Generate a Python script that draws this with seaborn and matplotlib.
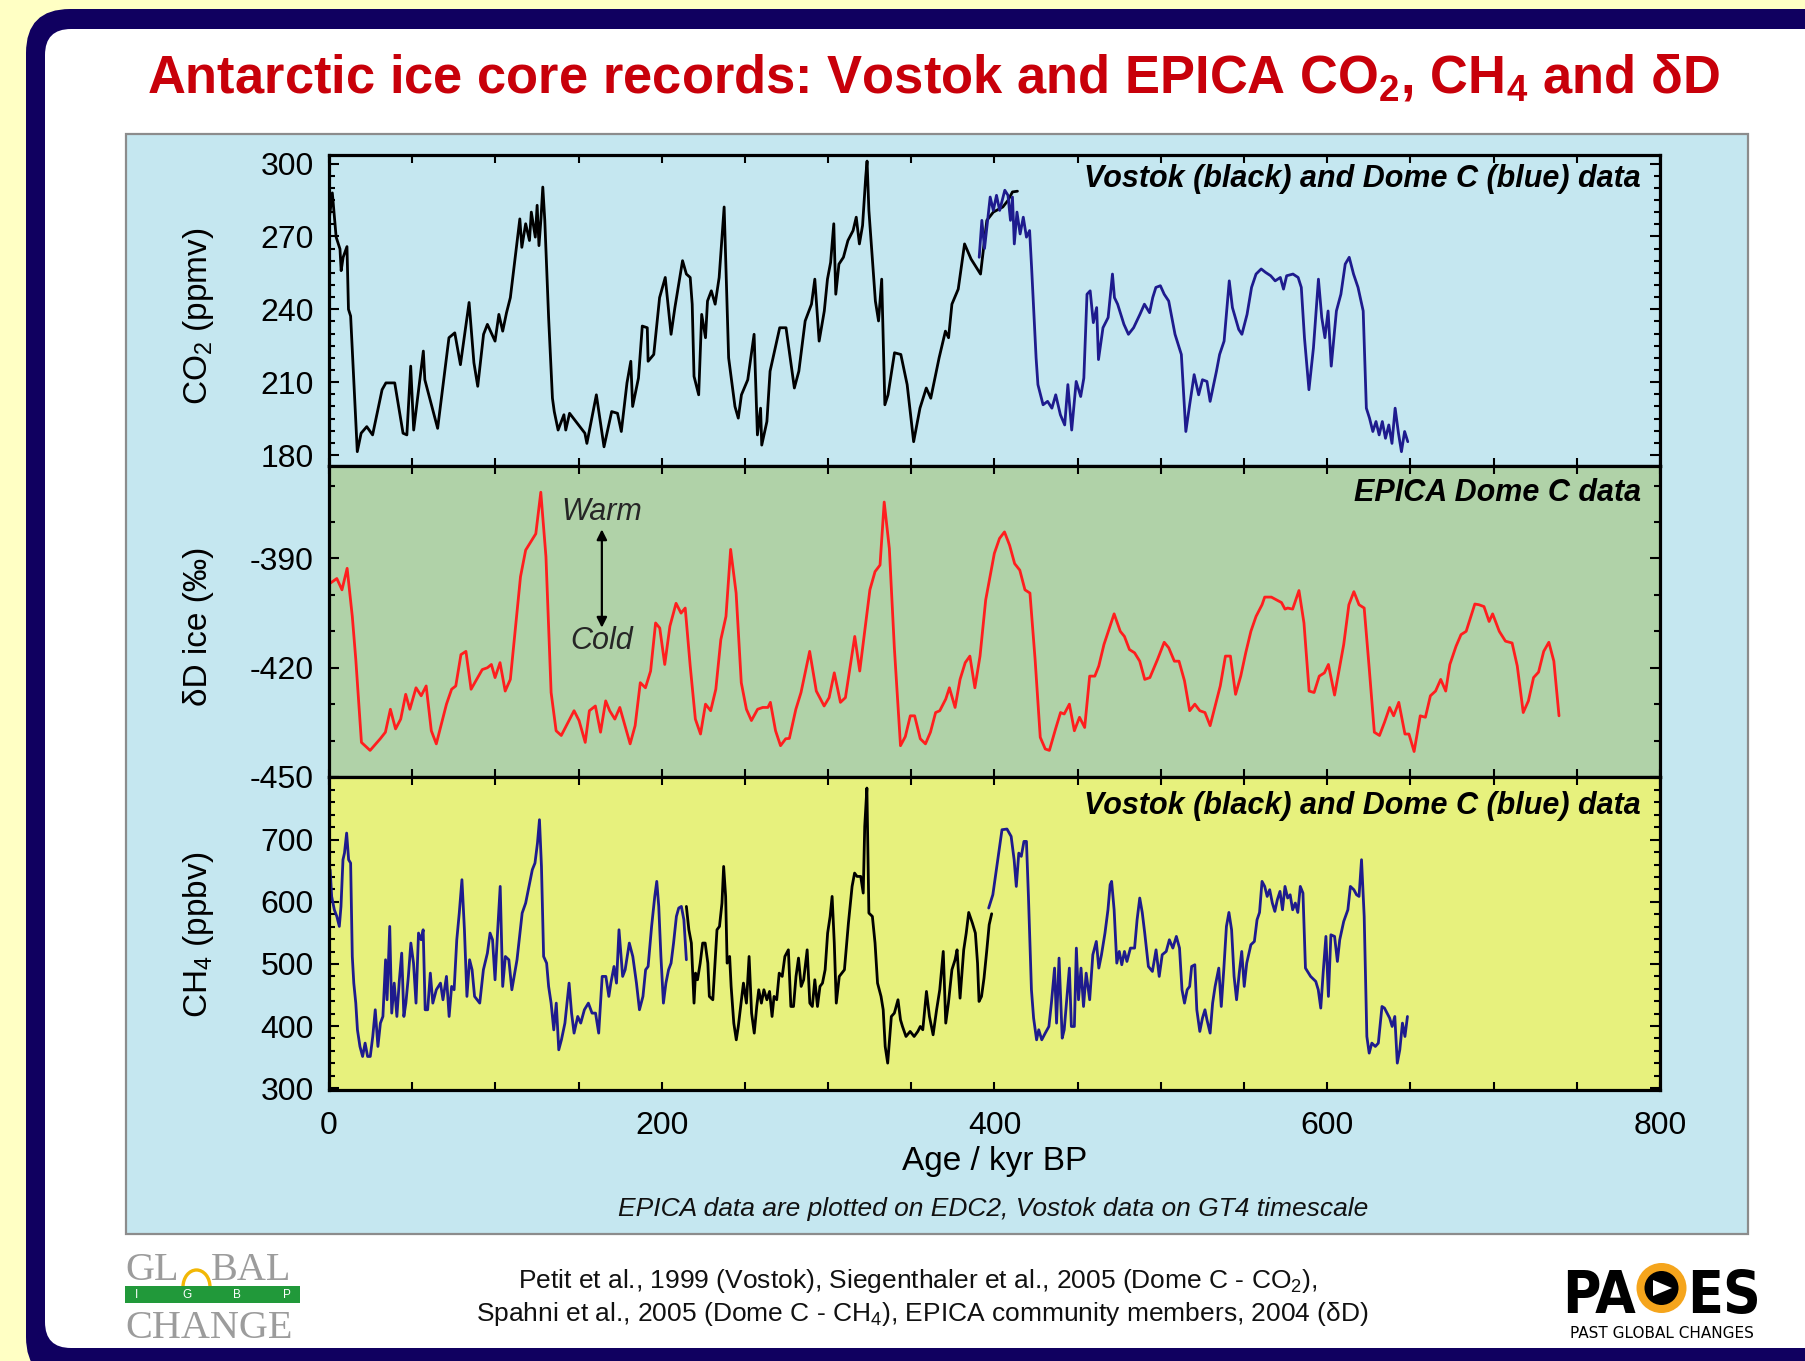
import matplotlib
matplotlib.use("Agg")
import matplotlib.pyplot as plt
import seaborn as sns
import pandas as pd
from matplotlib import font_manager as fm
from matplotlib.patches import FancyBboxPatch, Rectangle, Arc, Circle, Polygon
from matplotlib.ticker import MultipleLocator, FixedLocator

# ---------------------------------------------------------------- data
# CO2 (ppmv), Vostok core, age in kyr BP
co2_vostok_age = [0.4, 2.0, 4.3, 6.6, 7.3, 8.5, 10.8, 11.7, 13.0, 17.0, 19.3, 22.7, 26.2, 31.9, 34.2,
                  39.5, 44.5, 46.8, 49.1, 50.9, 56.7, 57.6, 65.3, 72.1, 75.6, 79.0, 84.2, 87.1, 89.4,
                  92.9, 95.2, 99.8, 102.1, 104.4, 106.7, 109.0, 112.4, 114.7, 115.9, 118.2, 120.5,
                  121.6, 124.0, 125.1, 126.2, 127.4, 128.5, 129.7, 132.0, 134.3, 135.4, 137.7, 141.2,
                  142.3, 144.6, 153.8, 155.0, 160.7, 165.3, 169.9, 173.4, 175.7, 179.1, 181.4, 182.5,
                  186.0, 188.3, 191.3, 191.8, 195.2, 198.7, 202.1, 205.6, 207.9, 212.5, 214.8, 217.1,
                  218.3, 219.4, 222.2, 224.0, 226.3, 227.5, 229.8, 232.1, 234.5, 237.5, 240.2, 244.0,
                  246.0, 247.9, 251.7, 255.5, 257.5, 259.4, 260.1, 263.2, 265.1, 270.9, 274.7, 279.7,
                  282.4, 286.2, 290.0, 292.0, 294.6, 297.7, 299.6, 301.5, 303.4, 304.6, 306.5, 309.2,
                  311.9, 315.0, 316.9, 318.8, 320.7, 322.6, 323.4, 324.5, 328.4, 330.3, 332.2, 334.1,
                  336.0, 339.9, 343.7, 347.5, 351.4, 355.2, 359.0, 361.7, 366.7, 370.5, 372.4, 374.4,
                  378.2, 382.0, 385.9, 391.6, 395.4, 399.3, 405.0, 408.1, 410.8, 413.8]
co2_vostok = [278.6, 287.9, 269.7, 264.8, 255.9, 261.4, 265.8, 240.0, 237.2, 181.4, 189.0, 191.7, 188.3,
              206.9, 209.7, 209.7, 189.0, 188.3, 216.6, 190.3, 222.8, 211.0, 191.0, 228.3, 230.3, 217.2,
              242.8, 218.0, 208.3, 229.7, 233.8, 226.9, 237.9, 231.0, 238.6, 244.8, 264.1, 277.2, 265.5,
              275.2, 268.3, 280.0, 269.7, 282.8, 266.2, 277.2, 290.3, 276.6, 236.6, 203.4, 197.9, 190.3,
              196.6, 190.3, 197.2, 189.0, 184.8, 204.8, 183.4, 197.9, 197.2, 189.7, 209.7, 218.6, 200.0,
              211.7, 233.1, 232.4, 218.6, 221.4, 244.8, 253.1, 229.7, 240.7, 260.0, 254.5, 253.1, 242.1,
              212.4, 204.8, 237.9, 228.3, 243.4, 247.6, 242.1, 253.1, 282.1, 220.0, 200.0, 195.2, 204.8,
              211.0, 229.7, 188.3, 199.3, 184.1, 193.8, 214.5, 232.4, 232.4, 207.6, 214.5, 235.2, 242.1,
              252.4, 226.9, 239.3, 252.4, 259.3, 275.2, 246.2, 258.6, 261.4, 268.3, 272.4, 277.9, 266.9,
              274.5, 294.5, 301.0, 280.7, 243.4, 235.2, 252.4, 200.7, 204.8, 222.1, 221.4, 209.0, 185.5,
              199.3, 207.6, 203.4, 220.0, 231.0, 228.3, 242.1, 248.3, 266.9, 260.7, 254.5, 276.6, 280.0,
              282.1, 284.8, 288.3, 288.6]

# CO2 (ppmv), EPICA Dome C core
co2_domec_age = [390.8, 392.4, 394.0, 397.4, 399.3, 401.2, 403.1, 406.2, 408.1, 409.6, 410.8, 411.9,
                 413.5, 415.4, 417.3, 419.2, 421.1, 422.3, 425.0, 426.1, 429.2, 431.9, 434.5, 436.8,
                 439.6, 442.2, 444.1, 446.4, 449.1, 451.8, 453.7, 455.6, 457.5, 459.4, 461.4, 462.5,
                 465.2, 468.3, 470.9, 472.1, 474.0, 477.8, 480.5, 483.6, 487.4, 490.1, 493.2, 495.1,
                 497.0, 499.7, 502.0, 504.7, 508.5, 512.3, 515.0, 517.3, 520.0, 522.7, 525.0, 527.7,
                 529.6, 533.4, 535.3, 538.0, 541.1, 543.0, 546.8, 548.7, 551.8, 554.5, 557.2, 560.3,
                 562.9, 566.0, 568.7, 571.8, 573.7, 575.6, 579.4, 582.5, 584.4, 586.3, 589.0, 591.7,
                 594.7, 596.7, 598.6, 600.5, 602.4, 605.5, 608.2, 610.8, 613.2, 615.8, 618.5, 621.6,
                 623.5, 625.4, 627.4, 629.3, 631.2, 633.1, 635.0, 637.0, 638.9, 640.8, 642.8, 644.6,
                 646.5, 648.4]
co2_domec = [261.4, 276.6, 265.0, 286.2, 280.7, 286.9, 280.7, 289.0, 286.9, 276.6, 286.2, 266.9, 280.0,
             271.0, 277.9, 269.7, 272.4, 257.2, 220.0, 209.0, 200.7, 202.1, 199.3, 204.8, 196.6, 192.4,
             209.0, 190.3, 210.3, 204.1, 211.7, 246.2, 247.6, 234.5, 240.7, 219.3, 232.4, 236.6, 254.5,
             244.8, 242.1, 233.8, 229.7, 232.4, 237.9, 242.1, 238.6, 244.8, 249.0, 249.7, 246.2, 243.4,
             229.7, 221.4, 189.7, 200.7, 213.1, 204.8, 211.0, 210.3, 202.1, 214.5, 221.4, 226.9, 251.7,
             240.7, 231.7, 229.7, 237.9, 249.0, 254.5, 256.6, 255.2, 253.8, 251.7, 253.1, 248.3, 253.8,
             254.5, 253.1, 249.0, 228.3, 206.9, 224.1, 252.4, 236.6, 228.3, 239.3, 216.6, 239.3, 246.2,
             258.6, 261.4, 254.5, 249.0, 239.3, 199.3, 195.2, 189.7, 193.8, 188.3, 193.8, 186.9, 192.4,
             184.8, 199.3, 189.0, 181.4, 189.7, 185.5]

# deltaD of ice (permil), EPICA Dome C
dd_age = [0.7, 4.7, 7.8, 10.9, 14.0, 16.1, 19.5, 24.7, 30.8, 33.9, 36.9, 40.0, 43.1, 46.1, 48.6, 52.3,
          55.4, 58.4, 61.5, 64.5, 70.6, 73.7, 76.2, 79.3, 82.3, 85.4, 92.1, 95.2, 97.6, 99.8, 102.8,
          105.9, 109.0, 115.1, 118.2, 124.3, 127.3, 130.4, 133.5, 136.5, 139.6, 147.3, 150.3, 154.0,
          156.5, 160.1, 163.2, 166.3, 168.7, 171.8, 174.8, 181.0, 184.0, 187.1, 190.2, 193.3, 196.3,
          198.8, 201.8, 204.9, 208.6, 211.6, 214.1, 217.1, 220.2, 223.3, 226.3, 229.4, 232.5, 235.5,
          238.6, 241.4, 244.7, 247.8, 250.9, 253.9, 257.6, 260.7, 263.8, 265.3, 268.4, 271.4, 274.5,
          276.7, 280.6, 283.7, 288.9, 292.9, 297.6, 300.6, 303.7, 307.4, 310.4, 316.0, 319.0, 325.1,
          328.2, 331.2, 333.7, 336.8, 339.8, 343.5, 346.4, 349.4, 352.0, 355.4, 358.5, 361.5, 364.6,
          367.1, 370.7, 372.9, 376.3, 379.3, 382.4, 385.2, 388.2, 391.3, 394.7, 399.9, 403.0, 406.0,
          409.1, 412.1, 415.2, 418.3, 421.3, 424.4, 427.5, 430.5, 433.0, 436.7, 439.7, 441.9, 445.0,
          448.0, 451.1, 454.2, 457.2, 460.3, 462.7, 465.8, 471.9, 475.6, 478.1, 481.1, 484.2, 487.3,
          490.3, 493.4, 498.0, 502.0, 504.7, 508.1, 510.9, 514.2, 517.3, 520.4, 523.4, 526.5, 529.6,
          532.6, 535.7, 538.8, 541.8, 544.9, 548.0, 551.0, 554.1, 557.2, 560.8, 562.4, 566.4, 570.1,
          572.5, 574.6, 576.2, 579.2, 583.0, 586.0, 589.1, 592.1, 595.2, 598.3, 600.7, 604.4, 609.9,
          613.0, 616.0, 619.1, 622.2, 625.2, 628.3, 631.4, 634.4, 637.5, 639.9, 643.0, 646.7, 649.1,
          652.2, 655.9, 659.0, 662.0, 665.1, 668.2, 671.2, 673.7, 677.4, 680.4, 683.5, 686.6, 688.7,
          691.2, 694.2, 697.3, 699.4, 703.4, 707.1, 711.1, 714.2, 717.8, 720.9, 724.0, 727.0, 730.1,
          733.2, 736.2, 739.3]
dd_ice = [-396.8, -395.5, -398.6, -392.7, -405.9, -417.7, -440.5, -442.7, -439.5, -437.7, -431.4, -436.8,
          -434.1, -427.3, -431.4, -425.5, -427.7, -425.0, -437.3, -440.9, -430.0, -425.9, -425.0, -416.4,
          -415.5, -425.9, -420.5, -420.0, -419.1, -422.7, -418.6, -426.4, -423.2, -395.0, -387.7, -383.2,
          -371.8, -389.5, -426.8, -437.3, -438.6, -431.8, -434.5, -440.5, -431.8, -430.5, -437.7, -429.1,
          -431.8, -434.1, -430.9, -440.9, -435.9, -424.1, -425.5, -420.9, -407.7, -409.1, -419.1, -408.6,
          -402.3, -405.0, -403.6, -419.5, -434.1, -438.2, -430.0, -431.8, -425.9, -412.3, -405.9, -387.5,
          -399.5, -424.1, -431.4, -434.5, -431.4, -430.9, -430.9, -429.5, -437.3, -441.4, -439.5, -439.4,
          -431.4, -426.8, -415.5, -426.4, -430.5, -428.2, -421.4, -429.5, -428.2, -411.4, -420.9, -398.6,
          -393.6, -391.8, -374.5, -387.3, -414.5, -441.4, -438.9, -433.2, -433.2, -439.5, -440.9, -437.7,
          -432.3, -431.8, -428.6, -425.5, -430.9, -423.2, -418.6, -416.8, -425.5, -416.8, -401.4, -388.6,
          -384.5, -382.7, -386.4, -391.4, -393.2, -398.6, -399.5, -417.7, -439.1, -442.3, -442.7, -436.8,
          -432.3, -432.7, -430.0, -437.3, -433.6, -436.4, -422.3, -422.3, -419.5, -413.6, -405.2, -410.0,
          -411.4, -415.0, -415.9, -418.2, -423.2, -422.7, -417.7, -413.0, -414.5, -418.2, -418.2, -423.6,
          -431.8, -430.0, -431.8, -432.3, -435.9, -430.5, -425.0, -416.8, -416.8, -427.3, -422.3, -415.9,
          -410.0, -405.9, -402.7, -400.6, -400.6, -401.5, -402.1, -403.9, -403.6, -403.9, -398.8, -407.7,
          -426.4, -426.8, -422.3, -421.4, -419.1, -427.5, -413.6, -402.7, -399.1, -402.7, -403.6, -420.0,
          -437.7, -438.6, -435.0, -430.9, -433.2, -429.5, -438.2, -438.2, -443.0, -433.2, -433.6, -427.7,
          -426.4, -423.2, -426.4, -419.1, -414.1, -410.9, -410.0, -405.5, -402.5, -402.7, -403.2, -407.3,
          -405.2, -410.0, -412.7, -413.2, -419.5, -432.3, -429.1, -422.7, -421.2, -415.5, -413.0, -418.2,
          -433.2]

# CH4 (ppbv), EPICA Dome C, younger section
ch4_domec1_age = [0.7, 1.6, 3.2, 4.7, 6.2, 7.2, 8.4, 9.3, 10.6, 11.8, 13.0, 14.0, 14.9, 16.1, 17.1, 18.6,
                  20.2, 21.7, 23.2, 24.8, 26.3, 27.8, 29.4, 30.9, 32.4, 34.0, 34.9, 36.5, 37.7, 39.2, 40.8,
                  42.3, 43.7, 45.0, 46.2, 47.7, 49.2, 50.8, 52.3, 53.8, 55.4, 56.6, 57.8, 59.3, 60.9, 62.4,
                  64.5, 67.0, 68.5, 70.6, 72.2, 73.7, 75.2, 76.8, 78.3, 79.9, 81.4, 82.9, 84.5, 86.0, 87.5,
                  90.6, 92.8, 95.2, 96.8, 98.3, 99.8, 101.4, 102.9, 104.4, 106.0, 108.1, 109.9, 113.0,
                  116.1, 118.2, 119.8, 122.2, 123.8, 125.3, 126.5, 127.7, 129.0, 130.8, 132.0, 133.5,
                  135.1, 136.6, 138.1, 139.7, 141.8, 144.3, 145.8, 147.3, 149.5, 151.3, 153.5, 155.9,
                  158.1, 160.2, 162.1, 164.2, 166.4, 168.2, 169.4, 171.3, 172.8, 174.3, 176.5, 178.0,
                  180.5, 182.6, 184.8, 186.6, 188.7, 190.3, 191.8, 193.9, 195.8, 197.0, 198.2, 199.5,
                  201.0, 202.5, 204.1, 205.6, 207.1, 208.8, 210.2, 211.8, 213.3, 214.8]
ch4_domec1 = [651.7, 608.7, 587.2, 576.5, 560.4, 592.6, 667.8, 678.5, 710.7, 667.8, 662.4, 512.0, 469.1,
              436.9, 393.8, 367.1, 351.0, 372.5, 351.0, 351.0, 383.2, 426.2, 367.1, 404.7, 415.4, 506.7,
              442.3, 560.4, 420.8, 469.1, 415.4, 474.5, 517.4, 415.4, 436.9, 479.9, 533.6, 501.3, 436.9,
              549.7, 538.9, 555.0, 426.2, 426.2, 485.2, 436.9, 458.4, 469.1, 442.3, 479.9, 415.4, 463.8,
              458.4, 538.9, 581.9, 635.6, 555.0, 447.7, 506.7, 490.6, 447.7, 436.9, 490.6, 517.4, 549.7,
              538.9, 474.5, 555.0, 624.8, 463.8, 512.0, 506.7, 458.4, 506.7, 581.9, 598.0, 619.5, 651.7,
              662.4, 694.6, 732.2, 657.0, 512.0, 501.3, 463.8, 436.9, 393.8, 436.9, 361.7, 377.8, 404.7,
              469.1, 420.8, 388.6, 415.4, 404.7, 426.2, 436.9, 420.8, 420.8, 388.6, 479.9, 479.9, 447.7,
              469.1, 495.9, 469.1, 555.0, 479.9, 490.6, 533.6, 512.0, 469.1, 426.2, 447.7, 490.6, 495.9,
              560.4, 608.7, 632.9, 592.6, 512.0, 436.9, 469.1, 490.6, 501.3, 533.6, 576.5, 590.0, 592.6,
              571.1, 506.7]

# CH4 (ppbv), Vostok core
ch4_vostok_age = [214.8, 216.3, 217.8, 219.4, 220.3, 221.5, 223.1, 224.6, 226.1, 227.7, 228.6, 230.7,
                  233.2, 234.7, 236.2, 237.2, 238.4, 239.3, 240.8, 241.7, 243.3, 244.8, 246.0, 247.9,
                  249.1, 250.9, 252.5, 254.0, 255.6, 257.1, 258.3, 259.9, 261.4, 263.2, 264.8, 266.3,
                  267.5, 269.1, 270.6, 272.4, 274.0, 276.1, 277.6, 279.2, 280.7, 282.2, 283.8, 285.3,
                  287.4, 289.0, 290.5, 292.0, 293.6, 295.1, 296.6, 298.2, 299.7, 301.2, 302.4, 303.7,
                  304.9, 306.7, 309.8, 312.2, 314.4, 315.9, 317.4, 319.6, 321.1, 322.0, 323.3, 324.5,
                  326.6, 328.2, 329.7, 331.8, 333.1, 334.3, 335.8, 338.0, 339.8, 342.0, 343.5, 344.7,
                  346.8, 349.3, 351.7, 353.9, 355.4, 356.9, 359.1, 360.9, 363.1, 365.2, 367.1, 369.2,
                  370.7, 372.3, 374.4, 376.3, 377.5, 379.3, 381.5, 383.0, 384.5, 386.7, 388.5, 389.8,
                  390.7, 392.2, 393.7, 395.3, 396.8, 398.3]
ch4_vostok = [592.6, 555.0, 533.6, 436.9, 485.2, 474.5, 501.3, 533.6, 533.6, 501.3, 447.7, 442.3, 555.0,
              560.4, 598.0, 657.0, 608.7, 501.3, 512.0, 463.8, 404.7, 377.8, 399.2, 442.3, 469.1, 436.9,
              512.0, 420.8, 388.6, 431.5, 458.4, 436.9, 458.4, 442.3, 455.7, 415.4, 447.7, 442.3, 485.2,
              479.9, 512.0, 522.7, 431.5, 431.5, 479.9, 509.4, 463.8, 474.5, 522.7, 436.9, 431.5, 474.5,
              431.5, 463.8, 469.1, 490.6, 549.7, 576.5, 608.7, 533.6, 436.9, 479.9, 490.6, 565.8, 624.8,
              646.3, 640.9, 640.9, 614.1, 721.5, 783.2, 581.9, 576.5, 533.6, 469.1, 447.7, 426.2, 367.1,
              340.3, 415.4, 420.8, 442.3, 410.0, 399.3, 383.2, 391.3, 383.2, 391.3, 399.3, 394.0, 455.7,
              415.4, 385.9, 426.2, 458.4, 520.1, 404.7, 436.9, 490.6, 506.7, 522.7, 444.9, 522.7, 549.7,
              582.9, 565.8, 549.7, 501.3, 439.6, 447.7, 477.2, 520.1, 563.1, 580.8]

# CH4 (ppbv), EPICA Dome C, older section
ch4_domec2_age = [396.5, 399.0, 401.4, 404.5, 407.5, 410.0, 411.8, 413.1, 414.6, 416.1, 417.7, 419.2,
                  420.4, 422.2, 423.5, 425.3, 426.6, 428.4, 430.5, 432.7, 434.2, 436.1, 437.3, 438.8,
                  440.7, 441.9, 443.4, 445.0, 446.2, 448.0, 449.2, 450.5, 452.0, 453.5, 455.1, 457.2,
                  459.1, 461.2, 462.7, 464.3, 466.4, 468.2, 469.5, 470.4, 471.9, 473.5, 475.0, 476.5,
                  478.1, 479.6, 481.7, 484.2, 485.7, 487.3, 488.8, 490.3, 492.5, 494.9, 497.1, 499.0,
                  500.8, 503.2, 505.1, 507.2, 509.3, 511.2, 512.7, 514.2, 515.8, 517.3, 518.5, 520.4,
                  521.6, 523.4, 525.0, 526.5, 527.7, 529.6, 531.1, 532.6, 534.8, 536.3, 537.8, 539.4,
                  540.9, 542.5, 544.0, 545.5, 547.1, 548.6, 550.1, 551.6, 554.1, 556.2, 557.8, 559.3,
                  560.8, 562.4, 563.9, 565.4, 567.0, 568.5, 570.0, 571.6, 573.1, 574.6, 576.2, 577.7,
                  579.2, 580.8, 582.3, 583.8, 585.4, 586.9, 590.0, 593.1, 594.6, 596.1, 597.6, 599.2,
                  600.7, 602.2, 604.4, 606.1, 607.5, 609.9, 612.4, 613.9, 616.0, 617.6, 619.1, 620.6,
                  622.2, 623.8, 625.2, 626.8, 628.9, 630.7, 632.9, 634.4, 637.5, 639.0, 640.6, 642.1,
                  643.6, 645.2, 646.7, 648.2]
ch4_domec2 = [590.0, 611.4, 657.0, 716.1, 717.2, 705.4, 667.8, 624.8, 678.5, 673.2, 697.3, 697.3, 608.7,
              458.4, 412.8, 377.8, 394.0, 377.8, 388.6, 399.3, 436.9, 493.3, 404.7, 509.4, 380.5, 394.0,
              442.3, 493.3, 399.3, 399.3, 525.5, 442.3, 493.3, 431.5, 485.2, 442.3, 514.8, 536.2, 493.3,
              514.8, 549.7, 587.2, 627.5, 632.9, 587.2, 501.3, 520.1, 498.7, 520.1, 504.0, 525.5, 525.5,
              571.1, 606.1, 582.9, 549.7, 495.9, 487.9, 522.7, 479.9, 514.8, 520.1, 538.9, 525.5, 544.3,
              525.5, 458.4, 436.9, 458.4, 463.8, 495.9, 498.7, 426.2, 391.3, 412.8, 426.2, 410.1, 388.6,
              436.9, 463.8, 493.3, 431.5, 490.6, 560.4, 582.9, 555.0, 479.9, 442.3, 485.2, 520.1, 463.8,
              501.3, 530.9, 536.2, 571.1, 582.9, 632.9, 624.8, 608.7, 619.5, 598.0, 584.6, 603.4, 616.8,
              587.2, 624.8, 606.1, 611.4, 587.2, 598.0, 582.9, 624.8, 614.1, 493.3, 479.9, 471.8, 458.4,
              428.9, 487.9, 544.3, 447.7, 546.9, 544.3, 504.0, 538.9, 568.5, 587.2, 624.8, 619.5, 611.4,
              608.7, 667.8, 576.5, 383.2, 356.4, 372.5, 367.1, 372.5, 431.5, 428.9, 412.8, 399.3, 415.4,
              340.3, 361.7, 404.7, 383.2, 415.4]

x_ticks = [0, 200, 400, 600, 800]
co2_ticks = [180, 210, 240, 270, 300]
dd_ticks = [-450, -420, -390]
ch4_ticks = [300, 400, 500, 600, 700]

# ---------------------------------------------------------------- style
sns.set_theme(style="ticks")
plt.rcParams["font.family"] = ["Liberation Sans", "DejaVu Sans"]
plt.rcParams["mathtext.fontset"] = "custom"
plt.rcParams["mathtext.rm"] = "Liberation Sans"
plt.rcParams["mathtext.it"] = "Liberation Sans:italic"
plt.rcParams["mathtext.bf"] = "Liberation Sans:bold"

# a condensed face for the PAGES lettering, if one is installed
_fonts = fm.fontManager.ttflist
if any(f.name == "Liberation Sans Narrow" for f in _fonts):
    LOGO_FONT = dict(family="Liberation Sans Narrow", fontsize=46)
elif any(f.name == "DejaVu Sans" and f.stretch == "condensed" and f.weight in ("bold", 700)
         for f in _fonts):
    LOGO_FONT = dict(family="DejaVu Sans", fontstretch="condensed", fontsize=42)
else:
    LOGO_FONT = dict(family="Liberation Sans", fontsize=38)

BG_YELLOW = "#FFFFC4"
NAVY = "#100060"
PANEL_BLUE = "#C5E7F0"
PANEL_GREEN = "#B0D2A8"
PANEL_YELLOW = "#E7F17D"
LINE_BLUE = "#1E1B8E"
LINE_RED = "#FF1E1E"
TITLE_RED = "#C8000A"

W, H = 1806, 1361
fig = plt.figure(figsize=(W / 100, H / 100), dpi=100, facecolor=BG_YELLOW)

# background layer in pixel coordinates (y downwards)
bg = fig.add_axes([0, 0, 1, 1], zorder=0)
bg.set_xlim(0, W)
bg.set_ylim(H, 0)
bg.axis("off")

bg.add_patch(FancyBboxPatch((26, 9), W + 80 - 26, H + 20 - 9,
                            boxstyle="round,pad=0,rounding_size=44", fc=NAVY, ec="none"))
bg.add_patch(FancyBboxPatch((45, 29), W + 60 - 45, 1348 - 29,
                            boxstyle="round,pad=0,rounding_size=26", fc="white", ec="none"))
bg.add_patch(Rectangle((126, 134), 1748 - 126, 1234 - 134, fc=PANEL_BLUE, ec="#8C8C8C", lw=1.6))

bg.text(933, 92, r"Antarctic ice core records: Vostok and EPICA CO$_\mathbf{2}$, CH$_\mathbf{4}$ and δD",
        color=TITLE_RED, fontsize=37.8, fontweight="bold", ha="center", va="baseline")

bg.text(993, 1209, "EPICA data are plotted on EDC2, Vostok data on GT4 timescale",
        fontsize=19, style="italic", ha="center", va="center", color="#111111")

bg.text(918, 1288, r"Petit et al., 1999 (Vostok), Siegenthaler et al., 2005 (Dome C - CO$_2$),",
        fontsize=19, ha="center", va="baseline", color="#111111")
bg.text(922, 1321, r"Spahni et al., 2005 (Dome C - CH$_4$), EPICA community members, 2004 (δD)",
        fontsize=19, ha="center", va="baseline", color="#111111")

# GLOBAL CHANGE / IGBP logo
gray = "#9C9C9C"
bg.text(125, 1280, "GL", family="Liberation Serif", fontsize=29, color=gray, ha="left", va="baseline")
bg.text(211, 1280, "BAL", family="Liberation Serif", fontsize=29, color=gray, ha="left", va="baseline")
bg.add_patch(Arc((196.5, 1287), 27, 34, theta1=180, theta2=360, color="#F2B705", lw=2.4))
bg.add_patch(Rectangle((125, 1286), 175, 17, fc="#21993A", ec="none"))
for lx, letter in zip([137, 187, 237, 287], ["I", "G", "B", "P"]):
    bg.text(lx, 1295, letter, fontsize=8.5, color="white", ha="center", va="center")
bg.text(125, 1338, "CHANGE", family="Liberation Serif", fontsize=29, color=gray, ha="left", va="baseline")

# PAGES logo
bg.text(1636, 1313, "PA", fontweight="bold", color="black", ha="right", va="baseline", **LOGO_FONT)
bg.text(1687, 1313, "ES", fontweight="bold", color="black", ha="left", va="baseline", **LOGO_FONT)
bg.add_patch(Circle((1661.5, 1288), 25, fc="#F5A51C", ec="none"))
bg.add_patch(Circle((1661.5, 1288), 17, fc="black", ec="none"))
bg.add_patch(Polygon([[1653, 1280], [1672, 1288], [1653, 1296]], closed=True, fc="white", ec="none"))
bg.text(1662, 1333, "PAST GLOBAL CHANGES", family=LOGO_FONT["family"], fontsize=11,
        color="black", ha="center", va="center")

# ---------------------------------------------------------------- panels
left = 329 / W
width = 1331 / W
ax1 = fig.add_axes([left, 1 - 466 / H, width, 311 / H], zorder=2)
ax2 = fig.add_axes([left, 1 - 777 / H, width, 311 / H], zorder=2)
ax3 = fig.add_axes([left, 1 - 1090 / H, width, 313 / H], zorder=2)

LW = 2.0
sns.lineplot(x=co2_vostok_age, y=co2_vostok, ax=ax1, color="black", linewidth=LW,
             estimator=None, sort=False, legend=False)
sns.lineplot(x=co2_domec_age, y=co2_domec, ax=ax1, color=LINE_BLUE, linewidth=LW,
             estimator=None, sort=False, legend=False)

sns.lineplot(x=dd_age, y=dd_ice, ax=ax2, color=LINE_RED, linewidth=LW,
             estimator=None, sort=False, legend=False)

sns.lineplot(x=ch4_domec1_age, y=ch4_domec1, ax=ax3, color=LINE_BLUE, linewidth=LW,
             estimator=None, sort=False, legend=False)
sns.lineplot(x=ch4_vostok_age, y=ch4_vostok, ax=ax3, color="black", linewidth=LW,
             estimator=None, sort=False, legend=False)
sns.lineplot(x=ch4_domec2_age, y=ch4_domec2, ax=ax3, color=LINE_BLUE, linewidth=LW,
             estimator=None, sort=False, legend=False)

panel_setup = [
    (ax1, PANEL_BLUE, (175.5, 303.5), co2_ticks, 5, r"CO$_2$ (ppmv)", 0.48,
     "Vostok (black) and Dome C (blue) data", 0.922),
    (ax2, PANEL_GREEN, (-450, -364.6), dd_ticks, 10, "δD ice (‰)", 0.486,
     "EPICA Dome C data", 0.912),
    (ax3, PANEL_YELLOW, (297, 801), ch4_ticks, 20, r"CH$_4$ (ppbv)", 0.495,
     "Vostok (black) and Dome C (blue) data", 0.907),
]

for ax, fc, ylim, yt, ymin, ylab, ylab_y, note, note_y in panel_setup:
    ax.set_facecolor(fc)
    ax.set_xlim(0, 800)
    ax.set_ylim(*ylim)
    ax.xaxis.set_major_locator(FixedLocator(x_ticks))
    ax.xaxis.set_minor_locator(MultipleLocator(50))
    ax.yaxis.set_major_locator(FixedLocator(yt))
    ax.yaxis.set_minor_locator(MultipleLocator(ymin))
    ax.set_yticklabels([str(v) for v in yt])
    for sp in ax.spines.values():
        sp.set_visible(True)
        sp.set_linewidth(2.3)
        sp.set_color("black")
    ax.tick_params(which="both", direction="in", top=True, bottom=True, left=True, right=True,
                   width=1.5, color="black", labelsize=23, labelcolor="black")
    ax.tick_params(axis="y", which="major", length=7, pad=11)
    ax.tick_params(axis="y", which="minor", length=4)
    ax.tick_params(axis="x", which="both", length=5.5, pad=15)
    ax.set_ylabel(ylab, fontsize=24, va="center", ha="center", color="black")
    ax.yaxis.set_label_coords(-0.0984, ylab_y)
    ax.text(0.9857, note_y, note, transform=ax.transAxes, ha="right", va="center",
            fontsize=22, fontweight="bold", style="italic", color="black")
    ax.grid(False)

ax1.tick_params(axis="x", labelbottom=False)
ax2.tick_params(axis="x", labelbottom=False)
ax1.set_xlabel("")
ax2.set_xlabel("")
ax3.set_xticklabels([str(v) for v in x_ticks])
ax3.set_xlabel("Age / kyr BP", fontsize=24, labelpad=4, color="black")

# warm / cold indicator on the deuterium panel
ax2.text(164, -377.3, "Warm", fontsize=22, style="italic", ha="center", va="center")
ax2.text(164, -412.7, "Cold", fontsize=22, style="italic", ha="center", va="center")
ax2.annotate("", xy=(164, -382.0), xytext=(164, -409.0),
             arrowprops=dict(arrowstyle="<|-|>", color="black", lw=1.6, mutation_scale=15,
                             shrinkA=0, shrinkB=0))

fig.savefig("out.png", dpi=100, facecolor=BG_YELLOW)
